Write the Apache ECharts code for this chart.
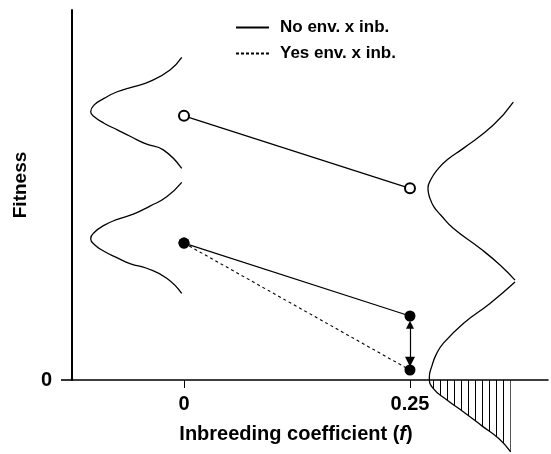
<!DOCTYPE html>
<html>
<head>
<meta charset="utf-8">
<script src="https://cdn.jsdelivr.net/npm/echarts@6.0.0/dist/echarts.min.js"></script>
<style>
  html, body { margin: 0; padding: 0; background: #fff; }
  #chart { width: 551px; height: 454px; }
</style>
</head>
<body>
<div id="chart"></div>
<script type="text/javascript">
// tick labels
var xTicks = [0, 0.25];
var yTicks = [0];
var legendNames = ['No env. x inb.', 'Yes env. x inb.'];

// means (f, fitness)
var noEnvOpen = [[0, 71.4], [0.25, 51.8]];
var noEnvFilled = [[0, 37.0], [0.25, 17.3]];
var yesEnvFilled = [[0, 37.0], [0.25, 2.7]];
var arrowEnds = [[0.25, 14.9], [0.25, 4.9]];

// fitness distributions
var distLeftUpper = [
  [-0.0025, 87.2], [-0.0155, 83.8], [-0.0376, 80.7], [-0.0553, 79.3], [-0.0738, 77.9],
  [-0.0885, 76.1], [-0.0996, 74.3], [-0.1032, 72.5], [-0.0996, 71.2], [-0.0885, 69.4],
  [-0.0738, 67.6], [-0.0590, 65.8], [-0.0420, 63.8], [-0.0229, 62.2], [-0.0025, 57.2]
];
var distLeftLower = [
  [-0.0025, 53.4], [-0.0191, 49.5], [-0.0376, 47.0], [-0.0553, 44.9], [-0.0738, 43.4],
  [-0.0885, 41.8], [-0.0996, 39.8], [-0.1032, 38.2], [-0.0996, 36.7], [-0.0885, 34.8],
  [-0.0738, 33.0], [-0.0590, 31.4], [-0.0413, 30.2], [-0.0191, 27.5], [-0.0025, 23.4]
];
var distRightUpper = [
  [0.3643, 75.1], [0.3422, 68.9], [0.3090, 62.6], [0.2912, 59.5], [0.2802, 56.8],
  [0.2729, 54.1], [0.2699, 51.8], [0.2721, 49.1], [0.2765, 46.8], [0.2840, 44.6],
  [0.2979, 41.0], [0.3274, 35.6], [0.3496, 31.1], [0.3662, 27.0]
];
var distRightLower = [
  [0.3662, 26.5], [0.3385, 20.7], [0.3090, 15.3], [0.2868, 9.9], [0.2788, 6.8],
  [0.2743, 3.8], [0.2714, 0.7], [0.2754, -2.2], [0.2909, -5.4], [0.3108, -8.9],
  [0.3296, -12.4], [0.3485, -15.9], [0.3614, -19.4]
];
var lethalTail = [
  [0.2722, 0], [0.2754, -2.2], [0.2909, -5.4], [0.3108, -8.9],
  [0.3296, -12.4], [0.3485, -15.9], [0.3614, -19.4]
];

var FONT = '"Liberation Sans", Arial, sans-serif';

// vertical hatching for the tail below zero
var hatch = document.createElement('canvas');
hatch.width = 7;
hatch.height = 7;
var hctx = hatch.getContext('2d');
hctx.fillStyle = '#000';
hctx.fillRect(6, 0, 1, 7);

function curve(data) {
  return {
    type: 'line', data: data, smooth: 0.5, symbol: 'none', clip: false, silent: true,
    lineStyle: { color: '#000', width: 1.3 }
  };
}

var chart = echarts.init(document.getElementById('chart'));
var option = {
  animation: false,
  backgroundColor: '#fff',
  grid: { left: 72, right: 3, top: 10, bottom: 74 },
  legend: {
    data: legendNames,
    orient: 'vertical',
    left: 235,
    top: 19,
    padding: 0,
    itemWidth: 33,
    itemHeight: 16,
    itemGap: 9,
    itemStyle: { opacity: 0, borderWidth: 0 },
    textStyle: { fontFamily: FONT, fontSize: 17, fontWeight: 'bold', color: '#000', padding: [0, 0, 0, 6] }
  },
  xAxis: {
    type: 'value',
    min: -0.1239,
    max: 0.4027,
    name: 'Inbreeding coefficient ({i|f})',
    nameLocation: 'middle',
    nameGap: 44,
    nameTextStyle: {
      fontFamily: FONT, fontSize: 20, fontWeight: 'bold', color: '#000', padding: [0, 28, 0, 0],
      rich: { i: { fontFamily: FONT, fontSize: 20, fontWeight: 'bold', fontStyle: 'italic', color: '#000' } }
    },
    axisLine: { onZero: false, lineStyle: { color: '#000', width: 1.6 } },
    axisTick: { show: true, customValues: xTicks, length: 8, lineStyle: { color: '#000', width: 1 } },
    axisLabel: { customValues: xTicks, margin: 14, fontFamily: FONT, fontSize: 20, fontWeight: 'bold', color: '#000' },
    splitLine: { show: false }
  },
  yAxis: {
    type: 'value',
    min: 0,
    max: 100,
    name: 'Fitness',
    nameLocation: 'middle',
    nameGap: 42,
    nameTextStyle: { fontFamily: FONT, fontSize: 19, fontWeight: 'bold', color: '#000', padding: [0, 0, 0, 20] },
    axisLine: { show: true, onZero: false, lineStyle: { color: '#000', width: 2 } },
    axisTick: { show: true, customValues: yTicks, length: 11, lineStyle: { color: '#000', width: 1.6 } },
    axisLabel: { customValues: yTicks, margin: 20, fontFamily: FONT, fontSize: 20, fontWeight: 'bold', color: '#000' },
    splitLine: { show: false }
  },
  series: [
    curve(distLeftUpper),
    curve(distLeftLower),
    curve(distRightUpper),
    curve(distRightLower),
    {
      type: 'line', data: lethalTail, smooth: 0.5, symbol: 'none', clip: false, silent: true,
      lineStyle: { width: 0, opacity: 0 },
      areaStyle: { color: { image: hatch, repeat: 'repeat' }, opacity: 1 }
    },
    // legend entries only
    {
      name: legendNames[0], type: 'line', data: [], symbol: 'none',
      itemStyle: { color: '#000' }, lineStyle: { color: '#000', width: 1.2 }
    },
    {
      name: legendNames[1], type: 'line', data: [], symbol: 'none',
      itemStyle: { color: '#000' }, lineStyle: { color: '#000', width: 1.1, type: [3, 2] }
    },
    {
      type: 'line', data: yesEnvFilled, symbol: 'circle', symbolSize: 11,
      itemStyle: { color: '#000' },
      lineStyle: { color: '#000', width: 1.1, type: [3, 3] }
    },
    {
      type: 'line', data: noEnvFilled, symbol: 'circle', symbolSize: 11,
      itemStyle: { color: '#000' },
      lineStyle: { color: '#000', width: 1.2 }
    },
    {
      type: 'line', data: noEnvOpen, symbol: 'emptyCircle', symbolSize: 10,
      itemStyle: { color: '#000', borderWidth: 1 },
      lineStyle: { color: '#000', width: 1.2 }
    },
    {
      type: 'lines', coordinateSystem: 'cartesian2d', silent: true,
      symbol: ['triangle', 'triangle'], symbolSize: [8, 10],
      lineStyle: { color: '#000', width: 1.2, opacity: 1 },
      data: [{ coords: arrowEnds }]
    }
  ]
};
chart.setOption(option);
</script>
</body>
</html>
